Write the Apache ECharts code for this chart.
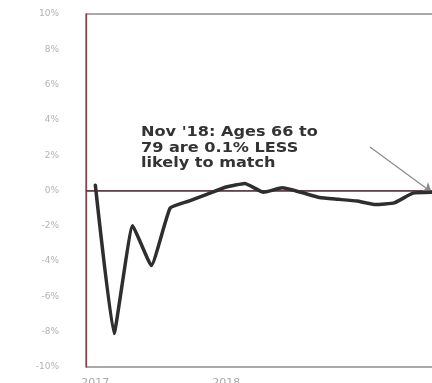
<!DOCTYPE html>
<html>
<head>
<meta charset="utf-8">
<script src="https://cdn.jsdelivr.net/npm/echarts@6/dist/echarts.min.js"></script>
<style>
  html, body { margin: 0; padding: 0; background: #ffffff; }
  #chart { width: 432px; height: 383px; }
</style>
</head>
<body>
<div id="chart"></div>
<script>
// Monthly periods, May 2017 through Nov 2018
const months = [
  'May 2017', 'Jun 2017', 'Jul 2017', 'Aug 2017', 'Sep 2017', 'Oct 2017',
  'Nov 2017', 'Dec 2017', 'Jan 2018', 'Feb 2018', 'Mar 2018', 'Apr 2018',
  'May 2018', 'Jun 2018', 'Jul 2018', 'Aug 2018', 'Sep 2018', 'Oct 2018',
  'Nov 2018'
];
// Year labels shown under the axis (blank = no label)
const yearLabels = [
  '2017', '', '', '', '', '', '', '2018', '', '', '', '', '', '', '', '', '', '', ''
];
// Difference in match likelihood, ages 66 to 79 (%)
const matchDiff = [
  0.3, -8.1, -2.0, -4.25, -1.0, -0.6, -0.2, 0.2, 0.4, -0.1,
  0.15, -0.1, -0.4, -0.5, -0.6, -0.8, -0.7, -0.15, -0.1
];
const yTicks = { min: -10, max: 10, step: 2 };
const noteText = "Nov '18: Ages 66 to\n79 are 0.1% LESS\nlikely to match";

const chart = echarts.init(document.getElementById('chart'), null, { renderer: 'canvas' });
const last = matchDiff.length - 1;

chart.setOption({
  animation: false,
  backgroundColor: '#ffffff',
  grid: {
    left: 86, top: 14, width: 355, bottom: 16,
    outerBoundsMode: 'none',
    containLabel: false,
    show: true, borderColor: '#555555', borderWidth: 1.2, backgroundColor: 'transparent'
  },
  xAxis: {
    type: 'category',
    data: months,
    boundaryGap: true,
    axisLine: { show: true, lineStyle: { color: '#777777', width: 1.2 } },
    axisTick: { show: false },
    axisLabel: {
      interval: 0,
      margin: 11,
      color: '#aaaaaa',
      fontSize: 11,
      fontFamily: 'DejaVu Sans',
      formatter: (v, i) => yearLabels[i]
    },
    splitLine: { show: false }
  },
  yAxis: {
    type: 'value',
    min: yTicks.min, max: yTicks.max, interval: yTicks.step,
    axisLine: { show: true, lineStyle: { color: '#9c3a52', width: 1.3 } },
    axisTick: { show: false },
    splitLine: { show: false },
    axisLabel: {
      margin: 27,
      color: '#b3b3b3',
      fontSize: 9,
      fontFamily: 'DejaVu Sans',
      formatter: v => v + '%'
    }
  },
  series: [
    {
      type: 'line',
      data: matchDiff,
      smooth: 0.12,
      symbol: 'none',
      lineStyle: { color: '#2e2e2e', width: 3.5, cap: 'round', join: 'round' },
      z: 5,
      markLine: {
        silent: true,
        symbol: 'none',
        label: { show: false },
        lineStyle: { color: '#5e2f3b', width: 1.5, type: 'solid' },
        data: [{ yAxis: 0 }],
        z: 1
      }
    },
    {
      // annotation arrow to the latest month
      type: 'line',
      data: [],
      markLine: {
        silent: true,
        symbol: ['none', 'arrow'],
        symbolSize: 9,
        label: { show: false },
        lineStyle: { color: '#8a8a8a', width: 1.2, type: 'solid' },
        data: [[{ x: 370, y: 147 }, { coord: [last, matchDiff[last]] }]]
      }
    }
  ],
  graphic: [
    {
      type: 'text',
      x: 141,
      y: 125,
      scaleX: 1.15,
      style: {
        text: noteText,
        fill: '#333333',
        font: 'bold 14px "DejaVu Sans"',
        lineHeight: 15.5
      },
      z: 10
    }
  ]
});
</script>
</body>
</html>
